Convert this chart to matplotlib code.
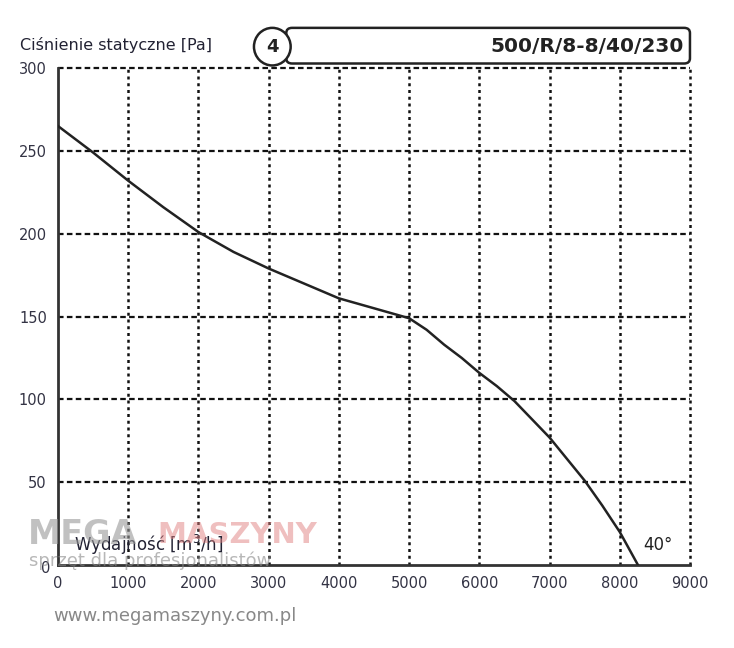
import matplotlib
matplotlib.use("Agg")
from matplotlib import pyplot as plt
from matplotlib.patches import FancyBboxPatch, Ellipse

# curve
flow = [0, 500, 1000, 1500, 2000, 2500, 3000, 3500, 4000, 4500, 5000, 5250, 5500, 5750, 6000,
	6250, 6500, 6750, 7000, 7250, 7500, 7750, 8000, 8130, 8260]
pressure = [265, 249, 232, 216, 201, 189, 179, 170, 161, 155, 149, 142, 133, 125, 116,
	108, 99, 88, 77, 64, 51, 36, 20, 10, 0]
xticks = [0, 1000, 2000, 3000, 4000, 5000, 6000, 7000, 8000, 9000]
yticks = [50, 100, 150, 200, 250, 300]
model = '500/R/8-8/40/230'
curve_no = '4'
temp_label = '40°'

fig = plt.figure(figsize=(7.34, 6.48), dpi=100)
ax = fig.add_axes([0.079, 0.128, 0.861, 0.767])

ax.plot(flow, pressure, color='#222222', lw=1.8, zorder=3)
ax.set_xlim(0, 9000)
ax.set_ylim(0, 300)
ax.set_xticks(xticks)
ax.set_yticks(yticks)
ax.tick_params(length=0, labelsize=10.5, labelcolor='#333344', pad=8)

for x in xticks[1:]:
	ax.axvline(x, color='#111111', lw=1.8, ls=(0, (1.2, 1.5)), zorder=1, clip_on=False)
for y in yticks:
	ax.axhline(y, color='#111111', lw=1.6, ls=(0, (2.5, 1.5)), zorder=1, clip_on=False)

for s in ['top', 'right']:
	ax.spines[s].set_visible(False)
for s in ['left', 'bottom']:
	ax.spines[s].set_linewidth(2)
	ax.spines[s].set_color('#333333')

ax.text(-110, -2, '0', fontsize=10.5, color='#333344', ha='right', va='center')

fig.text(0.027, 0.93, 'Ciśnienie statyczne [Pa]', fontsize=11.5, color='#222233', va='center')
ax.text(230, 12, 'Wydajność [m$^3$/h]', fontsize=12, color='#222233', va='center')
ax.text(8330, 12, temp_label, fontsize=12, color='#222222', va='center')

# title box with the curve number
box = FancyBboxPatch((0.39, 0.902), 0.55, 0.055, boxstyle='round,pad=0,rounding_size=0.008',
	transform=fig.transFigure, fill=False, lw=1.8, ec='#222222')
fig.patches.append(box)
fig.text(0.932, 0.929, model, fontsize=14.5, fontweight='bold', ha='right', va='center',
	family=['Liberation Sans Narrow', 'DejaVu Sans'], color='#222222')
circ = Ellipse((0.371, 0.928), 0.05, 0.058, transform=fig.transFigure, fc='white', ec='#222222', lw=1.8)
fig.patches.append(circ)
fig.text(0.371, 0.928, curve_no, fontsize=13, fontweight='bold', ha='center', va='center', color='#222222')

# watermark
fig.text(0.038, 0.175, 'MEGA', fontsize=24, fontweight='bold', color='#999999', alpha=0.6, va='center')
fig.text(0.215, 0.175, 'MASZYNY', fontsize=21, fontweight='bold', color='#e08080', alpha=0.5, va='center')
fig.text(0.04, 0.135, 'sprzęt dla profesjonalistów', fontsize=13, color='#888888', alpha=0.6, va='center')
fig.text(0.072, 0.05, 'www.megamaszyny.com.pl', fontsize=13, color='#888888', va='center')

fig.savefig('out.png', dpi=100)
